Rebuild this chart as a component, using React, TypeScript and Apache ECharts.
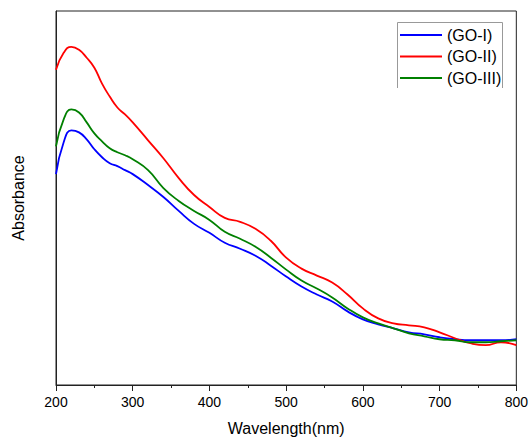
import React, { useEffect, useRef } from "react";
import * as echarts from "echarts";

const wavelengths = [200, 210, 220, 230, 240, 250, 260, 270, 280, 290, 300, 320, 340, 360, 380, 400, 420, 440, 460, 480, 500, 520, 540, 560, 580, 600, 620, 640, 660, 680, 700, 720, 740, 760, 780, 800];

const goI = [2.12, 2.44, 2.56, 2.54, 2.47, 2.37, 2.29, 2.23, 2.2, 2.16, 2.12, 2.01, 1.89, 1.75, 1.62, 1.53, 1.43, 1.37, 1.3, 1.2, 1.09, 0.99, 0.91, 0.84, 0.74, 0.66, 0.61, 0.57, 0.53, 0.51, 0.48, 0.46, 0.45, 0.45, 0.45, 0.46];

const goII = [3.17, 3.34, 3.4, 3.37, 3.29, 3.19, 3.03, 2.9, 2.79, 2.72, 2.64, 2.46, 2.28, 2.08, 1.91, 1.79, 1.68, 1.64, 1.57, 1.45, 1.28, 1.17, 1.1, 1.03, 0.91, 0.77, 0.67, 0.62, 0.6, 0.58, 0.53, 0.47, 0.42, 0.4, 0.43, 0.4];

const goIII = [2.4, 2.67, 2.77, 2.74, 2.64, 2.53, 2.45, 2.38, 2.34, 2.31, 2.27, 2.16, 1.98, 1.85, 1.75, 1.66, 1.54, 1.47, 1.39, 1.28, 1.16, 1.05, 0.97, 0.88, 0.77, 0.68, 0.62, 0.57, 0.52, 0.49, 0.46, 0.45, 0.43, 0.43, 0.44, 0.45];

const seriesNames = ["(GO-I)", "(GO-II)", "(GO-III)"];
const seriesColors = ["#0000ff", "#ff0000", "#008000"];
const xTicks = { min: 200, max: 800, interval: 100 };

const FONT = "'Liberation Sans', Arial, sans-serif";

export default function App() {
  const ref = useRef<HTMLDivElement>(null);
  useEffect(() => {
    if (!ref.current) return;
    const chart = echarts.init(ref.current, null, { renderer: "svg" });
    const all = [goI, goII, goIII];
    chart.setOption({
      animation: false,
      backgroundColor: "#fff",
      grid: {
        left: 56,
        top: 11,
        right: 11.5,
        bottom: 54,
        show: true,
        borderColor: "#222",
        borderWidth: 1,
      },
      legend: {
        orient: "vertical",
        left: 400,
        top: 26,
        padding: 0,
        itemWidth: 42,
        itemHeight: 2,
        itemGap: 3.5,
        icon: "rect",
        textStyle: { fontSize: 16, color: "#000", fontFamily: FONT, lineHeight: 18 },
        data: seriesNames,
      },
      xAxis: {
        type: "value",
        min: xTicks.min,
        max: xTicks.max,
        interval: xTicks.interval,
        name: "Wavelength(nm)",
        nameLocation: "middle",
        nameGap: 35,
        nameTextStyle: { fontSize: 16, color: "#000", fontFamily: FONT },
        axisLine: { show: true, lineStyle: { color: "#222", width: 1 } },
        axisTick: { show: true, length: 6, lineStyle: { color: "#222" } },
        minorTick: { show: true, splitNumber: 2, length: 3, lineStyle: { color: "#222" } },
        splitLine: { show: false },
        axisLabel: { fontSize: 14, color: "#000", fontFamily: FONT, margin: 10 },
      },
      yAxis: {
        type: "value",
        min: 0,
        max: 3.76,
        name: "Absorbance",
        nameLocation: "middle",
        nameGap: 30,
        nameTextStyle: { fontSize: 16, color: "#000", fontFamily: FONT },
        axisLine: { show: true, lineStyle: { color: "#222", width: 1 } },
        axisTick: { show: false },
        axisLabel: { show: false },
        splitLine: { show: false },
      },
      graphic: [
        {
          type: "polyline",
          shape: { points: [[397.5, 88], [397.5, 22.5], [502.5, 22.5], [502.5, 88]] },
          style: { stroke: "#999", fill: "none", lineWidth: 1 },
          z: 10,
        },
      ],
      series: all.map((vals, i) => ({
        name: seriesNames[i],
        type: "line",
        data: wavelengths.map((w, j) => [w, vals[j]]),
        smooth: 0.5,
        symbol: "none",
        lineStyle: { color: seriesColors[i], width: 1.8 },
        itemStyle: { color: seriesColors[i] },
      })),
    });
    return () => chart.dispose();
  }, []);
  return (
    <div
      ref={ref}
      style={{ position: "fixed", left: 0, top: 0, width: 531, height: 441 }}
    />
  );
}
